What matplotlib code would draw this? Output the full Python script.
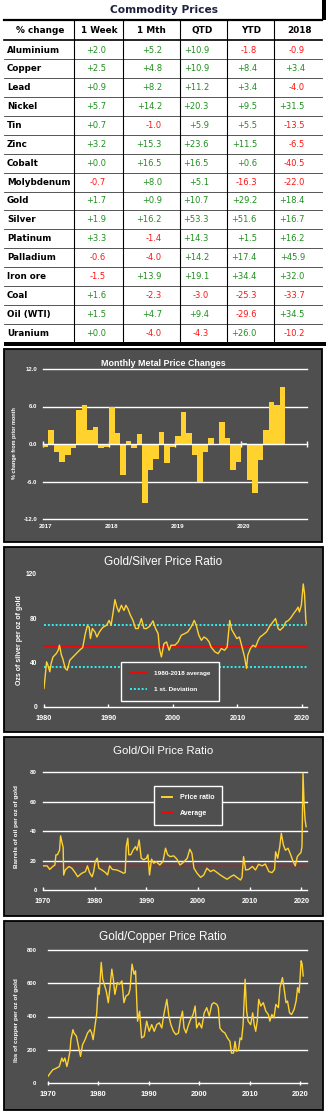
import matplotlib
matplotlib.use("Agg")
import matplotlib.pyplot as plt
from matplotlib.patches import Rectangle
import matplotlib.transforms as mtransforms

# ---------------- table data ----------------
commodities = ['Aluminium', 'Copper', 'Lead', 'Nickel', 'Tin', 'Zinc', 'Cobalt',
               'Molybdenum', 'Gold', 'Silver', 'Platinum', 'Palladium', 'Iron ore',
               'Coal', 'Oil (WTI)', 'Uranium']
col_headers = ['% change', '1 Week', '1 Mth', 'QTD', 'YTD', '2018']
chg_week = [2.0, 2.5, 0.9, 5.7, 0.7, 3.2, 0.0, -0.7, 1.7, 1.9, 3.3, -0.6, -1.5, 1.6, 1.5, 0.0]
chg_month = [5.2, 4.8, 8.2, 14.2, -1.0, 15.3, 16.5, 8.0, 0.9, 16.2, -1.4, -4.0, 13.9, -2.3, 4.7, -4.0]
chg_qtd = [10.9, 10.9, 11.2, 20.3, 5.9, 23.6, 16.5, 5.1, 10.7, 53.3, 14.3, 14.2, 19.1, -3.0, 9.4, -4.3]
chg_ytd = [-1.8, 8.4, 3.4, 9.5, 5.5, 11.5, 0.6, -16.3, 29.2, 51.6, 1.5, 17.4, 34.4, -25.3, -29.6, 26.0]
chg_2018 = [-0.9, 3.4, -4.0, 31.5, -13.5, -6.5, -40.5, -22.0, 18.4, 16.7, 16.2, 45.9, 32.0, -33.7, 34.5, -10.2]

# ---------------- monthly metal price changes (Jan 2017 onward) ----------------
monthly_change = [-0.5, 2.2, -1.3, -2.9, -1.8, -0.6, 5.4, 6.3, 2.3, 2.7, -0.7, -0.5,
                  6.0, 1.8, -4.9, 0.5, -0.7, 1.6, -9.5, -4.2, -2.4, 2.0, -3.1, -0.4,
                  1.3, 5.2, 1.8, -1.7, -6.0, -1.3, 0.9, -0.2, 3.6, 1.0, -4.1, -2.9,
                  0.2, -5.7, -7.9, -2.6, 2.2, 6.7, 6.2, 9.2]
month_years = ['2017', '2018', '2019', '2020']

# ---------------- gold / silver ratio ----------------
gs_years = [1980.0, 1980.4, 1980.6, 1980.9, 1981.1, 1981.4, 1981.9, 1982.2, 1982.4, 1982.7,
            1982.9, 1983.3, 1983.6, 1984.0, 1984.5, 1985.0, 1985.5, 1986.0, 1986.4, 1986.7,
            1987.0, 1987.2, 1987.5, 1987.9, 1988.2, 1988.6, 1989.1, 1989.7, 1990.1, 1990.4,
            1990.7, 1991.0, 1991.3, 1991.6, 1992.0, 1992.4, 1992.7, 1993.0, 1993.4, 1993.8,
            1994.2, 1994.6, 1995.1, 1995.5, 1995.9, 1996.4, 1996.9, 1997.3, 1997.7, 1997.9,
            1998.2, 1998.6, 1999.0, 1999.4, 1999.7, 2000.3, 2000.8, 2001.3, 2001.8, 2002.3,
            2002.8, 2003.3, 2003.6, 2004.0, 2004.4, 2004.8, 2005.2, 2005.6, 2005.9, 2006.5,
            2007.0, 2007.5, 2008.0, 2008.4, 2008.8, 2009.1, 2009.6, 2009.9, 2010.3, 2010.7,
            2011.1, 2011.4, 2011.6, 2012.0, 2012.4, 2012.8, 2013.2, 2013.5, 2013.9, 2014.5,
            2015.0, 2015.5, 2015.9, 2016.3, 2016.6, 2017.1, 2017.5, 2017.9, 2018.3, 2018.7,
            2019.1, 2019.4, 2019.6, 2019.9, 2020.2, 2020.4, 2020.6, 2020.7]
gs_ratio = [16.5, 40.6, 37.6, 31.6, 39, 45, 48, 51, 55.6, 46.6,
            43.6, 34.6, 33, 42, 45, 48, 51, 53.5, 66, 72.8,
            72, 61.6, 70.7, 67.7, 63, 67.7, 71.6, 73.7, 78, 73.7,
            84.8, 96.8, 90, 85.7, 91.7, 87, 91.7, 88.7, 82.7, 78,
            70.7, 70.7, 79.7, 70.7, 70.7, 72.8, 77.6, 70.7, 66, 52.6,
            45, 57, 58.6, 51, 55.6, 55.6, 58.6, 64.7, 66, 67.7,
            72, 78, 73.7, 64.7, 60, 63, 61.6, 58.6, 54, 49.6,
            48, 52.6, 51, 54, 78, 69.8, 64.7, 61.6, 63, 54,
            45, 34.6, 46.6, 52.6, 55.6, 54, 60, 63, 64.7, 67.7,
            72.8, 76.7, 79.7, 70.7, 69.2, 72, 76.7, 78, 80.6, 84.2,
            87.2, 90, 85.7, 91.7, 111, 102, 78, 75]
gs_average = 55.0
gs_std = 18.7

# ---------------- gold / oil ratio ----------------
go_years = [1970.0, 1970.8, 1971.3, 1971.9, 1972.3, 1972.5, 1972.8, 1973.2, 1973.4, 1973.7,
            1973.9, 1974.0, 1974.3, 1975.0, 1975.6, 1976.3, 1976.7, 1977.5, 1978.2, 1978.6,
            1979.0, 1979.5, 1979.8, 1980.1, 1980.5, 1980.8, 1981.4, 1982.1, 1982.5, 1982.9,
            1983.4, 1984.3, 1985.0, 1985.6, 1985.9, 1986.1, 1986.4, 1986.6, 1987.0, 1987.4,
            1987.9, 1988.2, 1988.6, 1989.0, 1989.5, 1990.0, 1990.3, 1990.6, 1991.0, 1991.4,
            1991.9, 1992.6, 1993.2, 1993.7, 1994.1, 1994.6, 1995.3, 1995.9, 1996.5, 1997.1,
            1997.9, 1998.4, 1998.8, 1999.2, 1999.8, 2000.5, 2001.1, 2001.7, 2002.4, 2003.0,
            2003.7, 2004.3, 2005.0, 2005.6, 2006.3, 2006.9, 2007.5, 2008.2, 2008.5, 2008.8,
            2009.2, 2009.8, 2010.5, 2011.1, 2011.7, 2012.4, 2013.0, 2013.7, 2014.3, 2014.8,
            2015.0, 2015.4, 2015.8, 2016.1, 2016.5, 2016.9, 2017.4, 2017.9, 2018.4, 2018.8,
            2019.2, 2019.5, 2019.9, 2020.1, 2020.3, 2020.5, 2020.7, 2020.9]
go_ratio = [16.4, 16.4, 14, 16, 17, 23.9, 24, 27, 36.8, 31.8,
            29, 10.2, 13.6, 16, 14.8, 11.4, 9, 11.4, 12.5, 16.4,
            11.8, 9, 12.5, 19.3, 21.6, 14.8, 13.6, 11.8, 10.2, 16.4,
            14, 13.6, 12.5, 11.4, 11.8, 29.5, 35.2, 23.9, 24, 27,
            29.5, 27, 34, 21.6, 20.5, 21.6, 24, 10.2, 21, 18.2,
            19.3, 17, 19.3, 28.4, 24, 22.7, 23.2, 21, 17, 18.6,
            21.6, 27.7, 25, 14.8, 11.4, 8.6, 10.2, 14.8, 12.5, 13.6,
            11.8, 10.2, 8.6, 7.3, 9, 10.2, 8.6, 6.8, 8.6, 22.7,
            13.6, 14, 16, 13.6, 17.5, 16.4, 17.7, 12.5, 11.8, 14,
            26, 21.6, 29.5, 38.6, 30.7, 27, 28.4, 24, 19.3, 16.4,
            22.7, 24, 25.5, 29.5, 79.5, 59, 47.7, 43]
go_average = 17.0

# ---------------- gold / copper ratio ----------------
gc_years = [1970.0, 1970.5, 1971.0, 1971.7, 1972.3, 1972.8, 1973.1, 1973.4, 1973.8, 1974.1,
            1974.4, 1974.6, 1975.0, 1975.2, 1975.7, 1976.1, 1976.5, 1976.9, 1977.4, 1977.9,
            1978.4, 1978.7, 1979.0, 1979.4, 1979.7, 1980.0, 1980.2, 1980.6, 1980.9, 1981.2,
            1981.6, 1982.0, 1982.3, 1982.7, 1983.0, 1983.3, 1983.8, 1984.2, 1984.7, 1985.1,
            1985.5, 1986.0, 1986.3, 1986.7, 1987.1, 1987.4, 1987.8, 1988.2, 1988.6, 1989.1,
            1989.6, 1990.1, 1990.6, 1991.1, 1991.6, 1992.1, 1992.6, 1993.0, 1993.6, 1994.0,
            1994.4, 1994.9, 1995.4, 1995.9, 1996.3, 1996.7, 1997.0, 1997.4, 1997.9, 1998.3,
            1998.8, 1999.2, 1999.5, 2000.0, 2000.5, 2001.0, 2001.5, 2002.0, 2002.5, 2002.9,
            2003.5, 2003.8, 2004.1, 2004.6, 2005.1, 2005.6, 2006.1, 2006.4, 2006.8, 2007.1,
            2007.4, 2007.8, 2008.1, 2008.4, 2008.7, 2009.1, 2009.4, 2009.7, 2010.2, 2010.6,
            2010.9, 2011.2, 2011.5, 2011.8, 2012.2, 2012.7, 2013.2, 2013.7, 2014.0, 2014.4,
            2014.8, 2015.2, 2015.7, 2016.0, 2016.5, 2016.8, 2017.2, 2017.5, 2017.9, 2018.3,
            2018.8, 2019.2, 2019.5, 2019.8, 2020.2, 2020.4, 2020.6]
gc_ratio = [38, 59, 79, 89, 99, 150, 129, 150, 99, 139,
            190, 261, 321, 301, 281, 220, 160, 230, 261, 301,
            321, 301, 261, 351, 416, 574, 533, 725, 624, 594,
            553, 483, 564, 685, 624, 533, 604, 594, 614, 483,
            523, 533, 564, 715, 654, 675, 372, 432, 271, 281,
            372, 311, 351, 311, 351, 362, 331, 412, 503, 402,
            351, 311, 291, 301, 382, 432, 331, 301, 351, 382,
            412, 463, 331, 362, 331, 422, 453, 402, 473, 483,
            473, 453, 331, 311, 301, 271, 250, 180, 180, 250,
            190, 200, 271, 261, 351, 624, 432, 372, 351, 422,
            351, 311, 372, 503, 463, 483, 432, 412, 372, 412,
            392, 473, 453, 574, 634, 574, 483, 493, 422, 412,
            442, 493, 574, 543, 735, 715, 644]

assert len(gs_years) == len(gs_ratio)
assert len(go_years) == len(go_ratio)
assert len(gc_years) == len(gc_ratio)

# ---------------- styling ----------------
W, H = 326, 1113
PANEL = '#4f4f4f'
GOLD = '#ffd22e'
GREEN = '#1f8f1f'
RED = '#ff1414'
CYAN = '#2ef0f0'
SANS = ['Liberation Sans', 'DejaVu Sans']
TBL = ['DejaVu Sans']

fig = plt.figure(figsize=(W / 100, H / 100), dpi=100)
fig.patch.set_facecolor('white')

# full-figure pixel canvas for the table and panel backgrounds
bg = fig.add_axes([0, 0, 1, 1], zorder=0)
bg.set_xlim(0, W)
bg.set_ylim(H, 0)
bg.axis('off')


def add_ax(x0, y0, x1, y1):
    ax = fig.add_axes([x0 / W, 1 - y1 / H, (x1 - x0) / W, (y1 - y0) / H], zorder=2)
    ax.set_facecolor('none')
    return ax


# ---------------- table ----------------
bg.text(163.5, 10, 'Commodity Prices', ha='center', va='center', fontsize=7.7,
        fontweight='bold', color='#1e2240', family=TBL)
bg.add_patch(Rectangle((321.5, 0), 4.5, 19.5, color='black', lw=0))

tbl_left, tbl_right = 4, 322
tbl_top, hdr_bottom, tbl_bottom = 20, 40.6, 342.5
row_h = (tbl_bottom - hdr_bottom) / len(commodities)
col_edges = [74, 123, 180, 227, 274]
hdr_x = [40, 99, 151, 202, 251, 299]
val_right = [106, 162, 209, 257, 305]

bg.plot([tbl_left, tbl_right], [tbl_top, tbl_top], color='black', lw=1.6)
bg.plot([tbl_left, tbl_right], [hdr_bottom - 0.6, hdr_bottom - 0.6], color='black', lw=1.2)
for k in range(1, len(commodities)):
    yy = hdr_bottom + k * row_h
    bg.plot([tbl_left, tbl_right], [yy, yy], color='#3a3a3a', lw=0.6)
for xe in col_edges:
    bg.plot([xe, xe], [tbl_top, tbl_bottom], color='black', lw=0.8)
bg.add_patch(Rectangle((tbl_left, tbl_bottom - 0.5), W - tbl_left, 4, color='black', lw=0))

for hx, h in zip(hdr_x, col_headers):
    bg.text(hx, 30.5, h, ha='center', va='center', fontsize=6.4, fontweight='bold',
            color='black', family=TBL)

columns = [chg_week, chg_month, chg_qtd, chg_ytd, chg_2018]
for i, name in enumerate(commodities):
    yc = hdr_bottom + (i + 0.5) * row_h
    bg.text(7, yc, name, ha='left', va='center', fontsize=6.3, fontweight='bold',
            color='black', family=TBL)
    for xr, col in zip(val_right, columns):
        v = col[i]
        bg.text(xr, yc, f'{v:+.1f}', ha='right', va='center', fontsize=6,
                color=GREEN if v >= 0 else RED, family=TBL)

# ---------------- chart panels ----------------
panels = [(3.5, 348.5, 322, 542), (4, 547, 323, 732), (4, 736.5, 323, 916), (4, 920.5, 323, 1110)]
for x0, y0, x1, y1 in panels:
    bg.add_patch(Rectangle((x0, y0), x1 - x0, y1 - y0, facecolor=PANEL, edgecolor='black', lw=1.3))


def style_common(ax):
    for s in ['left', 'right', 'top']:
        ax.spines[s].set_visible(False)
    ax.spines['bottom'].set_color('white')
    ax.spines['bottom'].set_linewidth(1.0)
    ax.tick_params(axis='y', length=0, colors='white')
    ax.tick_params(axis='x', colors='white')


# ---- chart 1: monthly metal price changes ----
ax1 = add_ax(43, 369, 307, 519)
ax1.set_xlim(0, 48)
ax1.set_ylim(-12, 12)
ax1.bar([k + 0.5 for k in range(len(monthly_change))], monthly_change, width=1.0,
        color=GOLD, lw=0, zorder=2)
for g in [-12, -6, 6, 12]:
    ax1.axhline(g, color='white', lw=1.0, zorder=1, clip_on=False)
style_common(ax1)
ax1.spines['bottom'].set_position(('data', 0))
ax1.spines['bottom'].set_zorder(3)
ax1.set_xticks([0, 12, 24, 36, 48])
ax1.tick_params(axis='x', direction='inout', length=4, width=1.0, labelbottom=False)
ax1.set_yticks([-12, -6, 0, 6, 12])
ax1.set_yticklabels([f'{t:.1f}' for t in [-12, -6, 0, 6, 12]])
ax1.tick_params(axis='y', pad=4.3, labelsize=4.3)
for lab in ax1.get_yticklabels():
    lab.set_fontweight('bold'); lab.set_family(SANS)
xform1 = mtransforms.blended_transform_factory(ax1.transData, ax1.transAxes)
for k, yr in enumerate(month_years):
    ax1.text(12 * k + 0.45, -0.053, yr, transform=xform1, ha='center', va='center',
             fontsize=4.4, fontweight='bold', color='white', family=SANS)
bg.text(163, 364, 'Monthly Metal Price Changes', ha='center', va='center', fontsize=6.4,
        fontweight='bold', color='white', family=SANS)
bg.text(15, 443, '% change from prior month', rotation=90, ha='center', va='center',
        fontsize=4.0, fontweight='bold', color='white', family=SANS)

# ---- chart 2: gold/silver ----
ax2 = add_ax(44, 574, 307, 706.7)
ax2.set_xlim(1980, 2020.78)
ax2.set_ylim(0, 120)
ax2.plot(gs_years, gs_ratio, color=GOLD, lw=1.0, zorder=3)
ax2.axhline(gs_average, color='#ff0000', lw=1.3, zorder=2, label='1980-2018 average')
ax2.axhline(gs_average + gs_std, color=CYAN, lw=1.4, ls=(0, (1, 1)), zorder=2,
            label='1 st. Deviation')
ax2.axhline(gs_average - gs_std, color=CYAN, lw=1.4, ls=(0, (1, 1)), zorder=2)
style_common(ax2)
ax2.set_xticks([1980, 1990, 2000, 2010, 2020])
ax2.tick_params(axis='x', direction='in', length=2.3, width=1.0, pad=6, labelsize=5.2)
ax2.set_yticks([0, 40, 80, 120])
ax2.tick_params(axis='y', pad=5, labelsize=4.8)
bg.text(163, 562, 'Gold/Silver Price Ratio', ha='center', va='center', fontsize=8.5,
        color='white', family=SANS)
bg.text(20, 640, 'Ozs of silver per oz of gold', rotation=90, ha='center', va='center',
        fontsize=5.0, fontweight='bold', color='white', family=SANS)
leg2 = ax2.legend(loc='center', bbox_to_anchor=(170 / W, 1 - 681.5 / H),
                  bbox_transform=fig.transFigure, frameon=True, fancybox=False,
                  prop={'family': SANS, 'weight': 'bold', 'size': 4.6},
                  handlelength=2.6, handletextpad=1.1, borderpad=1.35, labelspacing=1.6,
                  facecolor=PANEL, edgecolor='white', framealpha=1)
leg2.get_frame().set_linewidth(1.0)
for t in leg2.get_texts():
    t.set_color('white')

# ---- chart 3: gold/oil ----
ax3 = add_ax(43, 772.3, 307, 890)
ax3.set_xlim(1970, 2021.07)
ax3.set_ylim(0, 80)
for g in [20, 40, 60, 80]:
    ax3.axhline(g, color='white', lw=1.0, zorder=1, clip_on=False)
ax3.plot(go_years, go_ratio, color=GOLD, lw=1.0, zorder=3, label='Price ratio')
ax3.axhline(go_average, color='#ff0000', lw=0.9, zorder=2, label='Average')
style_common(ax3)
ax3.set_xticks([1970, 1980, 1990, 2000, 2010, 2020])
ax3.tick_params(axis='x', direction='in', length=2.3, width=1.0, pad=5.5, labelsize=5.2)
ax3.set_yticks([0, 20, 40, 60, 80])
ax3.tick_params(axis='y', pad=4.5, labelsize=4.4)
bg.text(163, 751, 'Gold/Oil Price Ratio', ha='center', va='center', fontsize=8.2,
        color='white', family=SANS)
bg.text(17, 827, 'Barrels of oil per oz of gold', rotation=90, ha='center', va='center',
        fontsize=4.6, fontweight='bold', color='white', family=SANS)
leg3 = ax3.legend(loc='center', bbox_to_anchor=(188 / W, 1 - 805.5 / H),
                  bbox_transform=fig.transFigure, frameon=True, fancybox=False,
                  prop={'family': SANS, 'weight': 'bold', 'size': 5},
                  handlelength=1.5, handletextpad=1.1, borderpad=1.1, labelspacing=1.3,
                  facecolor=PANEL, edgecolor='white', framealpha=1)
leg3.get_frame().set_linewidth(1.0)
for t in leg3.get_texts():
    t.set_color('white')
for hnd in leg3.legend_handles:
    hnd.set_linewidth(1.4)

# ---- chart 4: gold/copper ----
ax4 = add_ax(47.7, 950, 306.7, 1083)
ax4.set_xlim(1970, 2021.3)
ax4.set_ylim(0, 800)
for g in [200, 400, 600, 800]:
    ax4.axhline(g, color='white', lw=1.0, zorder=1, clip_on=False)
ax4.plot(gc_years, gc_ratio, color=GOLD, lw=1.0, zorder=3)
style_common(ax4)
ax4.set_xticks([1970, 1980, 1990, 2000, 2010, 2020])
ax4.tick_params(axis='x', direction='inout', length=3, width=1.0, pad=4.5, labelsize=5.4)
ax4.set_yticks([0, 200, 400, 600, 800])
ax4.tick_params(axis='y', pad=8, labelsize=4.2)
bg.text(163, 937, 'Gold/Copper Price Ratio', ha='center', va='center', fontsize=8.5,
        color='white', family=SANS)
bg.text(17, 1020, 'lbs of copper per oz of gold', rotation=90, ha='center', va='center',
        fontsize=4.6, fontweight='bold', color='white', family=SANS)

for ax in (ax2, ax3, ax4):
    for lab in ax.get_xticklabels() + ax.get_yticklabels():
        lab.set_fontweight('bold'); lab.set_family(SANS)

fig.savefig('out.png', dpi=100, facecolor='white')
